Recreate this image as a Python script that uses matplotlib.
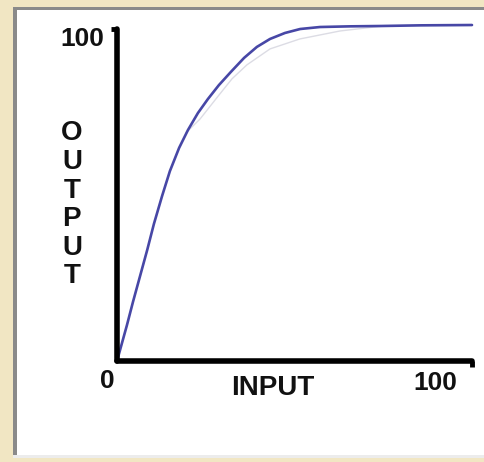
import numpy as np
import matplotlib
matplotlib.use("Agg")
import matplotlib.pyplot as plt
from matplotlib.patches import Rectangle

# -----------------------------
# Dati
# -----------------------------
input_vals = [0, 1.4, 2.8, 4.5, 6.5, 8.5, 10.4, 12.7, 14.9, 17.5, 20.0, 22.8, 25.6,
              28.7, 32.1, 35.8, 39.4, 43.1, 47.3, 51.6, 57.2, 65.6, 74.1, 85.4, 100]
output_vals = [0, 5.4, 10.8, 17.8, 25.6, 33.4, 41.3, 49.7, 57.2, 64.2, 69.6, 74.7, 78.9,
               83.1, 87.1, 91.3, 94.6, 97.0, 98.8, 100.0, 100.6, 100.8, 100.9, 101.1, 101.2]

# curva "fantasma" grigia appena sotto
ghost_input = [19.5, 23.4, 28.5, 32.4, 36.6, 43.1, 51.5, 62.8, 74.9]
ghost_output = [68.8, 72.9, 79.8, 85.0, 89.2, 94.0, 97.0, 99.4, 100.9]

x_ticks = [0, 100]
x_tick_labels = ["0", "100"]
y_tick_labels = ["100"]

W, H = 485, 462
fig = plt.figure(figsize=(W / 100, H / 100), dpi=100)
fig.patch.set_facecolor("#f1e6c3")

def px_rect(x0, y0, x1, y1, **kw):
    # rettangolo in pixel (origine in alto a sinistra)
    fig.patches.append(Rectangle((x0 / W, 1 - y1 / H), (x1 - x0) / W, (y1 - y0) / H,
                                 transform=fig.transFigure, zorder=-5, **kw))

# pannello bianco con bordo grigio
px_rect(13, 7, 490, 458, facecolor="#ececec", edgecolor="none")
px_rect(13, 7, 490, 455, facecolor="#8a8a8a", edgecolor="none")
px_rect(17, 10, 490, 455, facecolor="white", edgecolor="none")

# -----------------------------
# Assi
# -----------------------------
ax = fig.add_axes([117 / W, 1 - 361 / H, 355 / W, 332 / H])
ax.set_facecolor("none")
ax.set_xlim(0, 100)
ax.set_ylim(0, 100)

for s in ["top", "right"]:
    ax.spines[s].set_visible(False)
for s in ["left", "bottom"]:
    ax.spines[s].set_linewidth(4.0)
    ax.spines[s].set_capstyle("round")
    ax.spines[s].set_color("black")

ax.set_xticks([x_ticks[1]])
ax.set_yticks([100])
ax.tick_params(axis="both", direction="out", length=4, width=3.5, color="black",
               labelbottom=False, labelleft=False)

ax.plot(ghost_input, ghost_output, color="#dcdce4", linewidth=1.0, clip_on=False)
ax.plot(input_vals, output_vals, color="#4747a6", linewidth=1.9, clip_on=False,
        solid_capstyle="round", solid_joinstyle="round")

font = dict(family=["Liberation Sans", "DejaVu Sans"], fontweight="bold", color="#111111")
ax.text(-0.028, -0.06, x_tick_labels[0], transform=ax.transAxes, ha="center", va="center",
        fontsize=19, **font)
ax.text(0.896, -0.065, x_tick_labels[1], transform=ax.transAxes, ha="center", va="center",
        fontsize=19, **font)
ax.text(-0.035, 0.97, y_tick_labels[0], transform=ax.transAxes, ha="right", va="center",
        fontsize=19, **font)
ax.text(0.44, -0.082, "INPUT", transform=ax.transAxes, ha="center", va="center",
        fontsize=20, **font)
ax.text(-0.127, 0.47, "\n".join("OUTPUT"), transform=ax.transAxes, ha="center", va="center",
        fontsize=20, linespacing=1.13, **font)

fig.savefig("out.png", dpi=100, facecolor=fig.get_facecolor())
